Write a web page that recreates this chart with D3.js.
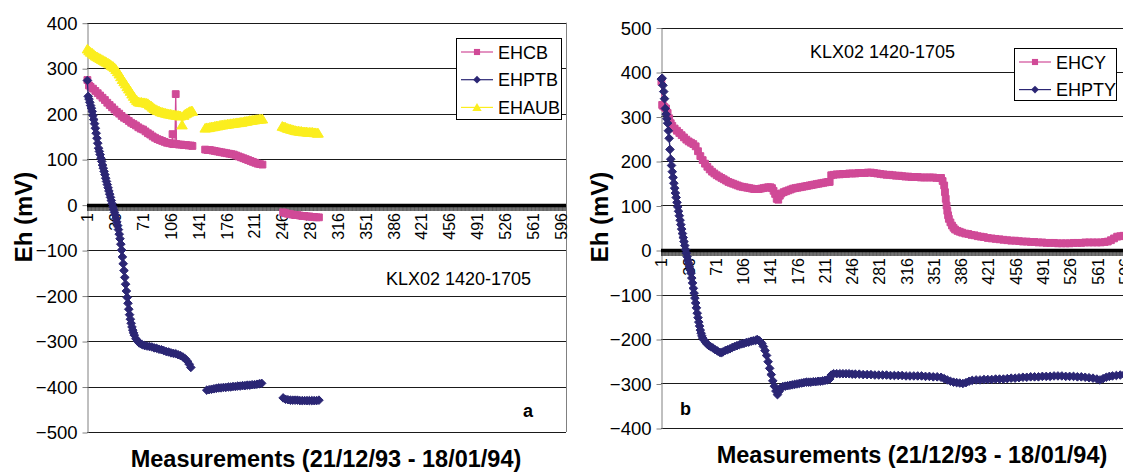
<!DOCTYPE html>
<html>
<head>
<meta charset="utf-8">
<script src="https://cdn.jsdelivr.net/npm/d3@7"></script>
<style>
  body { margin: 0; background: #fff; }
  svg { font-family: "Liberation Sans", Arial, sans-serif; }
</style>
</head>
<body>
<svg id="chart" width="1123" height="472"></svg>
<script>
// category labels shown on the x axis (every 35th measurement)
const xLabels = [1, 36, 71, 106, 141, 176, 211, 246, 281, 316, 351, 386, 421, 456, 491, 526, 561, 596];
const yTicksA = [-500, -400, -300, -200, -100, 0, 100, 200, 300, 400];
const yTicksB = [-400, -300, -200, -100, 0, 100, 200, 300, 400, 500];

// panel a -- [measurement, Eh mV], null = gap in the record
const EHCB = [
  [1,274],[3,262],[5,259],[8,255],[11,250],[14,245],[17,240],[20,235],[23,230],[26,224],[29,219],[32,214],
  [35,209],[38,204],[41,200],[44,195],[47,191],[50,188],[53,184],[56,180],[59,177],[62,174],[65,170],[68,167],
  [71,165],[74,161],[77,157],[80,154],[83,150],[86,147],[89,144],[92,142],[95,140],[98,138],[101,136],[104,135],
  [107,134],[108,155],[109,133],[111,133],[112,243],[113,133],[116,132],[119,132],[122,131],[125,131],[128,130],
  [131,130],[133,129],[140,null],
  [149,121],[152,120],[155,120],[158,119],[161,118],[164,117],[167,116],[170,115],[173,114],[176,113],[179,112],
  [182,111],[185,110],[188,108],[191,106],[194,104],[197,102],[200,100],[203,98],[206,96],[209,94],[212,92],
  [215,90],[218,89],[221,88],[230,null],
  [247,-17],[250,-19],[253,-20],[256,-21],[259,-22],[262,-23],[265,-23],[268,-24],[271,-25],[274,-25],
  [277,-26],[280,-26],[283,-27],[286,-27],[289,-28],[292,-28]
];
const EHPTB = [
  [1,273],[2,238],[3,232],[4,225],[5,218],[6,212],[7,205],[8,196],[9,187],[10,178],[11,168],[12,157],[13,146],
  [14,135],[15,124],[16,117],[17,110],[18,102],[19,95],[20,87],[21,80],[22,73],[23,66],[24,58],[25,51],[26,44],
  [27,37],[28,30],[29,23],[30,16],[31,9],[32,2],[33,-5],[34,-11],[35,-17],[36,-23],[37,-30],[38,-38],[39,-46],
  [40,-55],[41,-65],[42,-75],[43,-87],[44,-100],[45,-115],[46,-130],[47,-145],[48,-160],[49,-175],[50,-190],
  [51,-204],[52,-217],[53,-230],[54,-242],[55,-252],[56,-261],[57,-269],[58,-276],[59,-282],[60,-287],[62,-295],
  [64,-300],[66,-304],[68,-306],[70,-308],[73,-310],[76,-311],[79,-312],[82,-313],[85,-315],[88,-316],[91,-318],
  [94,-319],[97,-321],[100,-323],[103,-324],[106,-326],[109,-327],[112,-328],[115,-330],[118,-332],[121,-335],
  [124,-339],[127,-345],[129,-351],[131,-358],[140,null],
  [151,-408],[154,-407],[157,-406],[160,-405],[163,-404],[166,-403],[169,-403],[172,-402],[175,-402],[178,-401],
  [181,-401],[184,-400],[187,-400],[190,-399],[193,-399],[196,-398],[199,-398],[202,-397],[205,-397],[208,-396],
  [211,-396],[214,-395],[217,-394],[220,-393],[230,null],
  [247,-425],[250,-428],[253,-429],[256,-430],[259,-430],[262,-430],[265,-430],[268,-431],[271,-431],[274,-431],
  [277,-431],[280,-431],[283,-431],[286,-431],[289,-431],[292,-430]
];
const EHAUB = [
  [1,342],[3,338],[5,335],[7,333],[9,330],[11,327],[13,325],[15,323],[17,321],[19,319],[21,317],[23,315],
  [25,313],[27,311],[29,309],[31,306],[33,304],[35,301],[37,297],[39,292],[41,287],[43,281],[45,275],[47,270],
  [49,265],[51,259],[53,254],[55,249],[57,243],[59,238],[61,233],[63,229],[65,226],[67,225],[69,225],[71,224],
  [73,224],[75,223],[77,222],[79,219],[81,217],[83,214],[85,211],[87,209],[89,207],[91,206],[93,204],[95,203],
  [97,202],[99,201],[101,200],[103,199],[105,199],[107,198],[109,197],[111,197],[113,196],[115,196],[117,195],
  [118,195],[120,175],[122,196],[124,199],[126,201],[128,203],[130,205],[132,206],[133,205],
  [140,null],
  [149,168],[151,169],[153,169],[155,170],[157,171],[159,171],[161,172],[163,173],[165,173],[167,174],[169,175],
  [171,175],[173,176],[175,176],[177,177],[179,177],[181,178],[183,178],[185,179],[187,179],[189,180],[191,180],
  [193,181],[195,181],[197,182],[199,183],[201,183],[203,184],[205,185],[207,185],[209,186],[211,186],[213,187],
  [215,187],[217,188],[219,188],[221,188],[230,null],
  [246,172],[248,171],[250,170],[252,168],[254,167],[256,166],[258,165],[260,164],[262,163],[264,162],[266,162],
  [268,161],[270,161],[272,160],[274,160],[276,160],[278,159],[280,159],[282,159],[284,159],[286,158],[288,158],
  [290,157],[291,157]
];

// panel b
const EHCY = [
  [1,378],[2,326],[3,324],[5,321],[7,318],[9,308],[11,296],[13,285],[15,279],[18,273],[21,268],[24,263],[27,258],
  [30,253],[33,248],[36,244],[39,241],[42,238],[45,233],[48,222],[51,211],[54,202],[57,194],[60,187],[63,181],
  [66,176],[69,172],[72,168],[75,165],[78,162],[81,159],[84,156],[87,153],[90,151],[93,149],[96,147],[99,145],
  [102,143],[105,142],[108,141],[111,140],[114,139],[117,138],[120,137],[123,137],[126,137],[129,138],[132,139],
  [135,140],[138,141],[141,141],[143,139],[145,133],[147,126],[149,115],[151,113],[153,122],[155,127],[158,130],
  [161,132],[164,134],[167,136],[170,138],[173,139],[176,140],[179,141],[182,142],[185,143],[188,144],[191,145],
  [194,146],[197,147],[200,148],[203,149],[206,150],[209,151],[212,152],[215,153],[217,153],[219,168],[222,169],
  [226,170],[230,170],[234,171],[238,171],[242,172],[246,172],[250,172],[254,173],[258,173],[262,173],[266,174],
  [270,174],[274,173],[278,172],[282,171],[286,170],[290,169],[294,169],[298,168],[302,167],[306,167],[310,166],
  [314,165],[318,165],[322,164],[326,164],[330,164],[334,163],[338,163],[342,163],[346,163],[350,163],[354,162],
  [358,162],[360,162],[362,155],[364,145],[365,130],[366,115],[367,100],[368,88],[369,78],[370,70],[372,62],
  [374,55],[376,50],[378,46],[381,43],[384,41],[387,39],[391,37],[395,36],[399,34],[403,33],[407,31],[411,30],
  [415,29],[420,27],[425,26],[430,25],[435,24],[440,23],[445,22],[450,21],[455,21],[460,20],[465,19],[470,19],
  [475,18],[480,18],[485,17],[490,17],[495,16],[500,16],[505,16],[510,15],[515,15],[520,15],[525,15],[530,16],
  [535,16],[540,16],[545,17],[550,17],[555,17],[560,17],[565,17],[570,18],[574,19],[578,22],[582,26],[586,30],
  [590,31],[594,32],[598,32],[602,32]
];
const EHPTY = [
  [1,384],[2,386],[3,370],[4,356],[5,340],[6,318],[7,305],[8,295],[9,285],[10,268],[11,251],[12,226],[13,204],
  [14,190],[15,176],[16,163],[17,150],[18,139],[19,128],[20,118],[21,107],[22,97],[23,87],[24,77],[25,67],
  [26,57],[27,47],[28,37],[29,28],[30,19],[31,10],[32,1],[33,-7],[34,-15],[35,-23],[36,-30],[37,-38],[38,-45],
  [39,-52],[40,-63],[41,-74],[42,-86],[43,-97],[44,-108],[45,-119],[46,-130],[47,-142],[48,-152],[49,-162],
  [50,-171],[51,-180],[52,-187],[53,-193],[54,-198],[56,-203],[58,-208],[60,-212],[62,-215],[64,-217],[67,-220],
  [70,-224],[73,-227],[76,-230],[78,-231],[80,-229],[83,-226],[86,-224],[89,-222],[92,-219],[95,-217],[98,-215],
  [101,-213],[104,-211],[107,-210],[110,-208],[113,-207],[116,-205],[119,-204],[122,-203],[124,-201],[126,-203],
  [128,-206],[130,-210],[132,-217],[134,-226],[136,-237],[138,-251],[140,-266],[142,-280],[144,-294],[146,-306],
  [148,-317],[150,-325],[152,-318],[154,-310],[157,-307],[160,-306],[163,-305],[166,-304],[169,-303],[172,-302],
  [175,-301],[178,-300],[181,-299],[184,-298],[187,-297],[190,-297],[193,-297],[196,-296],[199,-296],[202,-295],
  [205,-295],[208,-294],[211,-293],[214,-292],[217,-290],[219,-281],[222,-278],[226,-278],[230,-278],[234,-278],
  [238,-278],[242,-278],[246,-279],[250,-279],[255,-279],[260,-280],[265,-280],[270,-280],[275,-281],[280,-281],
  [285,-281],[290,-281],[295,-282],[300,-282],[305,-282],[310,-282],[315,-283],[320,-283],[325,-283],[330,-283],
  [335,-283],[340,-284],[345,-284],[350,-285],[355,-285],[360,-286],[364,-289],[368,-292],[372,-295],[376,-297],
  [380,-298],[384,-299],[388,-300],[392,-298],[396,-295],[400,-293],[405,-292],[410,-292],[415,-291],[420,-291],
  [425,-291],[430,-290],[435,-290],[440,-290],[445,-289],[450,-288],[455,-288],[460,-287],[465,-286],[470,-286],
  [475,-285],[480,-285],[485,-285],[490,-284],[495,-284],[500,-284],[505,-283],[510,-283],[515,-283],[520,-284],
  [525,-284],[530,-284],[535,-285],[540,-285],[545,-286],[550,-287],[555,-288],[560,-290],[564,-292],[568,-289],
  [572,-286],[576,-284],[580,-283],[585,-282],[590,-281],[595,-280],[600,-280]
];

const PINK = "#d04a97", NAVY = "#2b2674", YELLOW = "#fbee1f";
const markers = {
  square: "M-3.4,-3.4H3.4V3.4H-3.4Z",
  diamond: "M0,-4.3L4.3,0L0,4.3L-4.3,0Z",
  triangle: "M0,-4.8L5.2,3.9L-5.2,3.9Z"
};

const svg = d3.select("#chart");

function drawPanel(cfg) {
  const g = svg.append("g");
  const x = d3.scaleBand().domain(d3.range(1, cfg.n + 1)).range([cfg.left, cfg.right]);
  const y = d3.scaleLinear().domain(cfg.yDomain).range([cfg.bottom, cfg.top]);
  const cx = i => x(i) + x.bandwidth() / 2;

  // horizontal gridlines
  g.append("g").selectAll("line").data(cfg.yTicks).join("line")
    .attr("x1", cfg.left).attr("x2", cfg.right)
    .attr("y1", d => Math.round(y(d)) + 0.5).attr("y2", d => Math.round(y(d)) + 0.5)
    .attr("stroke", "#1a1a1a");

  // right frame edge
  g.append("line")
    .attr("x1", cfg.right + 0.5).attr("x2", cfg.right + 0.5)
    .attr("y1", cfg.top).attr("y2", cfg.bottom)
    .attr("stroke", "#808080");

  // value axis
  const yAxis = g.append("g")
    .attr("transform", `translate(${cfg.left + 0.5},0.5)`)
    .call(d3.axisLeft(y).tickValues(cfg.yTicks).tickSize(5).tickSizeOuter(0).tickPadding(5));
  yAxis.select(".domain").attr("stroke", "#808080");
  yAxis.selectAll(".tick line").attr("stroke", "#808080");
  yAxis.selectAll("text").attr("fill", "#000").style("font-size", "18.5px").attr("dy", "0.34em");

  // category axis crossing at zero: a tick for every measurement
  const y0 = Math.round(y(0));
  const minor = g.append("g")
    .attr("transform", `translate(0,${y0})`)
    .call(d3.axisBottom(x).tickValues(x.domain()).tickSize(6).tickSizeOuter(0).tickFormat(""));
  minor.select(".domain").remove();
  minor.selectAll(".tick line").attr("stroke", "#000").attr("stroke-width", 0.55);
  g.append("line")
    .attr("x1", cfg.left).attr("x2", cfg.right)
    .attr("y1", y0 + 0.5).attr("y2", y0 + 0.5)
    .attr("stroke", "#000").attr("stroke-width", 3.5);

  const labels = g.append("g")
    .attr("transform", `translate(0,${y0})`)
    .call(d3.axisBottom(x).tickValues(cfg.xLabels).tickSize(0).tickSizeOuter(0));
  labels.select(".domain").remove();
  labels.selectAll("text")
    .attr("fill", "#000")
    .style("font-size", "16px")
    .attr("text-anchor", "end")
    .attr("transform", "rotate(-90)")
    .attr("x", -8).attr("y", 0).attr("dy", "0.36em");

  // series (markers carry a thin outline in the series colour, like the original)
  const line = d3.line().defined(d => d[1] !== null).x(d => cx(d[0])).y(d => y(d[1]));
  cfg.series.forEach(s => {
    g.append("path").datum(s.data)
      .attr("d", line).attr("fill", "none")
      .attr("stroke", s.color).attr("stroke-width", 1.3);
    g.append("g").selectAll("path").data(s.data.filter(d => d[1] !== null)).join("path")
      .attr("d", markers[s.marker])
      .attr("transform", d => `translate(${cx(d[0])},${y(d[1])})`)
      .attr("fill", s.color)
      .attr("stroke", s.color).attr("stroke-width", 1).attr("stroke-linejoin", "round");
  });

  // legend
  const lg = g.append("g");
  lg.append("rect")
    .attr("x", cfg.legend.x + 0.5).attr("y", cfg.legend.y + 0.5)
    .attr("width", cfg.legend.w).attr("height", cfg.legend.h)
    .attr("fill", "#fff").attr("stroke", "#000");
  cfg.series.forEach((s, k) => {
    const ly = cfg.legend.y + cfg.legend.first + k * cfg.legend.step;
    const lx = cfg.legend.x + 5;
    lg.append("line").attr("x1", lx).attr("x2", lx + 32).attr("y1", ly).attr("y2", ly)
      .attr("stroke", s.color).attr("stroke-width", 1.2);
    lg.append("path").attr("d", markers[s.marker])
      .attr("transform", `translate(${lx + 16},${ly}) scale(0.9)`).attr("fill", s.color);
    lg.append("text").attr("x", lx + 37).attr("y", ly + 6.5)
      .style("font-size", "18px").text(s.name);
  });

  // annotations
  g.append("text").attr("x", cfg.note.x).attr("y", cfg.note.y)
    .style("font-size", "18px").text("KLX02 1420-1705");
  g.append("text").attr("x", cfg.tag.x).attr("y", cfg.tag.y)
    .style("font-size", "18px").style("font-weight", "bold").text(cfg.tag.t);

  g.append("text")
    .attr("transform", `translate(${cfg.yTitleX},217) rotate(-90)`)
    .attr("text-anchor", "middle")
    .style("font-size", "24px").style("font-weight", "bold")
    .text("Eh (mV)");
  g.append("text")
    .attr("x", cfg.xTitle.x).attr("y", cfg.xTitle.y)
    .attr("text-anchor", "middle")
    .style("font-size", "23.5px").style("font-weight", "bold")
    .text("Measurements (21/12/93 - 18/01/94)");
}

drawPanel({
  n: 602, left: 87, right: 566, top: 22.7, bottom: 432,
  yDomain: [-500, 400], yTicks: yTicksA, xLabels: xLabels,
  series: [
    { name: "EHCB", data: EHCB, color: PINK, marker: "square" },
    { name: "EHPTB", data: EHPTB, color: NAVY, marker: "diamond" },
    { name: "EHAUB", data: EHAUB, color: YELLOW, marker: "triangle" }
  ],
  legend: { x: 456, y: 38, w: 105, h: 81, first: 14, step: 27.7 },
  note: { x: 386, y: 285 }, tag: { x: 523, y: 417, t: "a" },
  yTitleX: 32, xTitle: { x: 326, y: 467 }
});

drawPanel({
  n: 640, left: 661, right: 1159.6, top: 27.5, bottom: 428,
  yDomain: [-400, 500], yTicks: yTicksB, xLabels: xLabels,
  series: [
    { name: "EHCY", data: EHCY, color: PINK, marker: "square" },
    { name: "EHPTY", data: EHPTY, color: NAVY, marker: "diamond" }
  ],
  legend: { x: 1014, y: 48, w: 102, h: 52, first: 14, step: 27.6 },
  note: { x: 810, y: 58 }, tag: { x: 680, y: 415, t: "b" },
  yTitleX: 608, xTitle: { x: 912, y: 463 }
});
</script>
</body>
</html>
